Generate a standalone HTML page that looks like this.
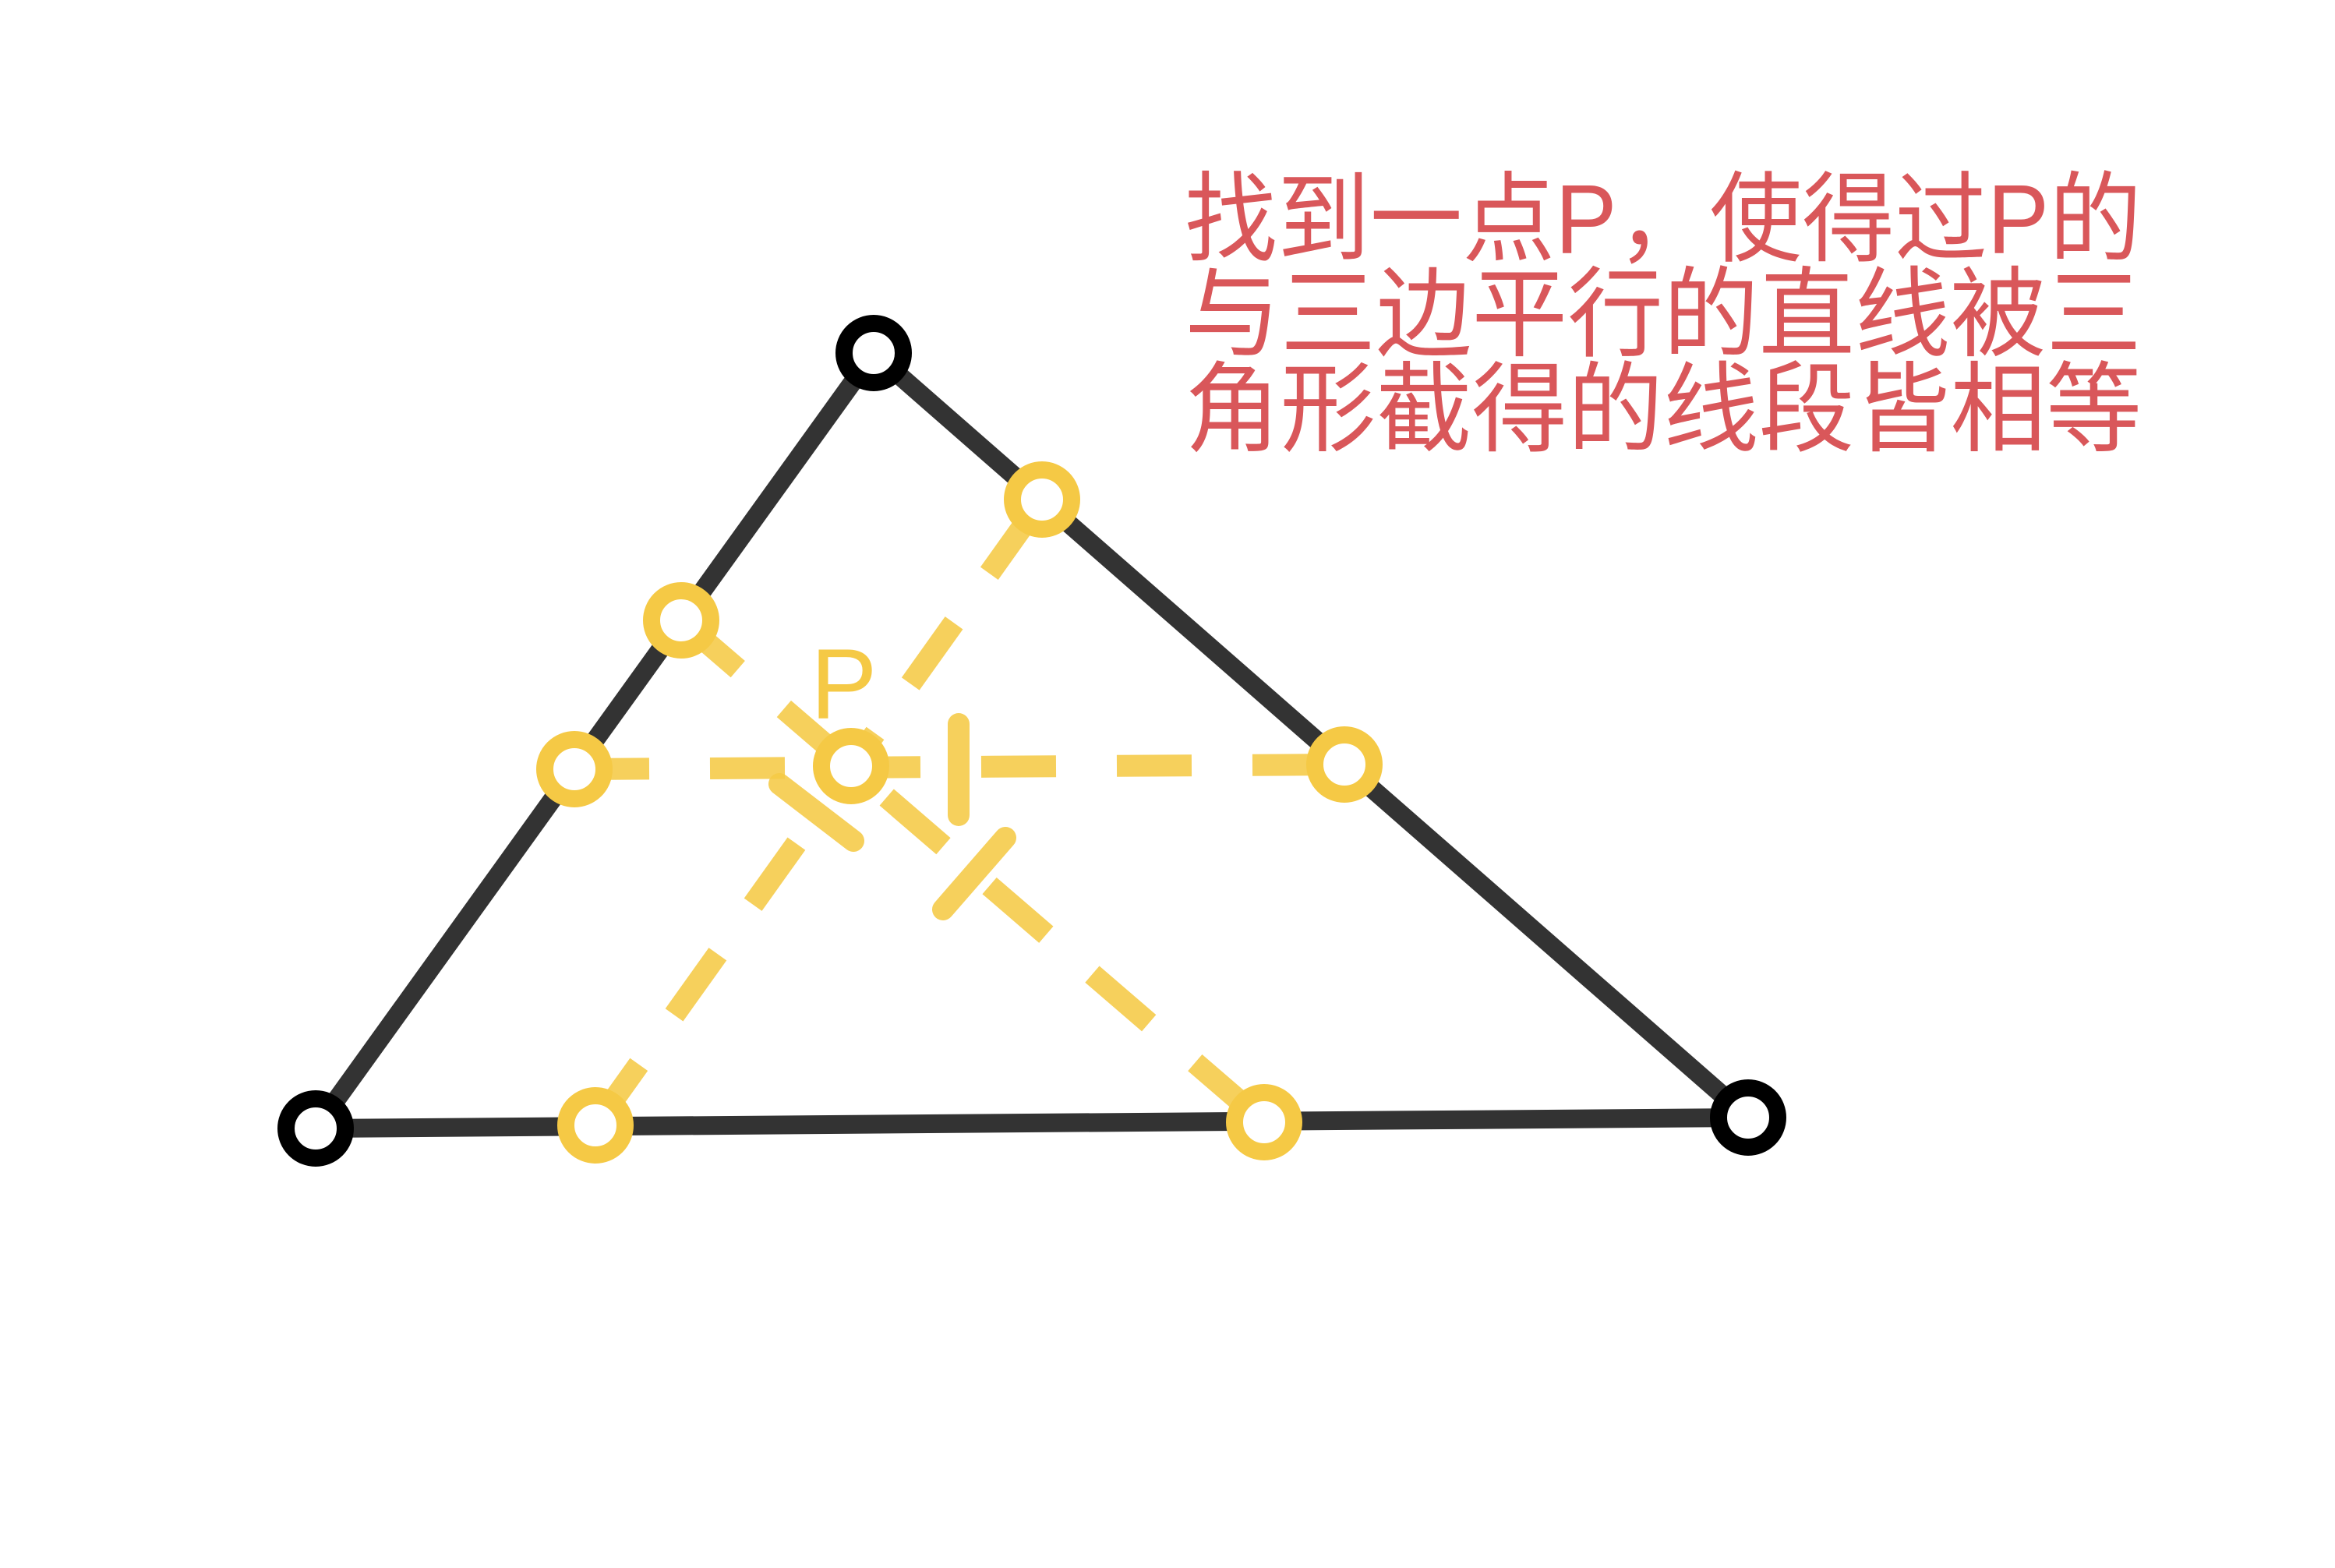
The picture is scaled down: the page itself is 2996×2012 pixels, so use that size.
<!DOCTYPE html>
<html><head><meta charset="utf-8"><style>
html,body{margin:0;padding:0;background:#fff;}
svg{display:block;}
</style></head><body>
<svg id="fig" width="2996" height="2012" viewBox="0 0 2996 2012" xmlns="http://www.w3.org/2000/svg">
<rect width="2996" height="2012" fill="#fff"/>
<g id="dash"></g>
<g id="tri"></g>
<g id="pts"></g>
<text x="1040" y="922" font-family="Liberation Sans, sans-serif" font-size="128" fill="#f5c945">P</text>
<g font-family="'Liberation Sans','Noto Sans CJK SC',sans-serif" font-size="126" fill="#d9575a">
<text x="1520" y="325" textLength="1228" lengthAdjust="spacingAndGlyphs">找到一点P，使得过P的</text>
<text x="1520" y="447" textLength="1228" lengthAdjust="spacingAndGlyphs">与三边平行的直线被三</text>
<text x="1520" y="569" textLength="1228" lengthAdjust="spacingAndGlyphs">角形截得的线段皆相等</text>
</g>
</svg>
<script>
const NS='http://www.w3.org/2000/svg';
const vertexX=[405,1121,2243];
const vertexY=[1448,453,1434];
const pointX=[874,1337,737,1725,764,1622,1092];
const pointY=[796,641,987,981,1444,1440,983];
const dashFrom=[2,4,0];
const dashTo=[3,1,5];
const markX1=[1230,1000,1210];
const markY1=[929,1006,1167];
const markX2=[1230,1095,1290];
const markY2=[1046,1079,1075];
function mk(tag,attrs,parent){const e=document.createElementNS(NS,tag);for(const k in attrs)e.setAttribute(k,attrs[k]);parent.appendChild(e);return e;}
const dash=document.getElementById('dash'),tri=document.getElementById('tri'),pts=document.getElementById('pts');
for(let i=0;i<dashFrom.length;i++){
  const a=dashFrom[i],b=dashTo[i];
  const l=mk('line',{x1:pointX[a],y1:pointY[a],x2:pointX[b],y2:pointY[b],stroke:'#f5c945','stroke-width':28,'stroke-dasharray':'96 78','stroke-opacity':0.88},dash);
  
  
}
for(let i=0;i<markX1.length;i++){
  const l=mk('line',{x1:markX1[i],y1:markY1[i],x2:markX2[i],y2:markY2[i],stroke:'#f5c945','stroke-width':28,'stroke-linecap':'round','stroke-opacity':0.88},dash);
  
  
}
for(let i=0;i<3;i++){
  const j=(i+1)%3;
  const l=mk('line',{x1:vertexX[i],y1:vertexY[i],x2:vertexX[j],y2:vertexY[j],stroke:'#333','stroke-width':24},tri);
  
  
}
for(let i=0;i<pointX.length;i++){
  const c=mk('circle',{cx:pointX[i],cy:pointY[i],r:38,fill:'#fff',stroke:'#f5c945','stroke-width':22},pts);
  
  
}
for(let i=0;i<3;i++){
  const c=mk('circle',{cx:vertexX[i],cy:vertexY[i],r:38,fill:'#fff',stroke:'#000','stroke-width':22},pts);
  
  
}
</script>
</body></html>
